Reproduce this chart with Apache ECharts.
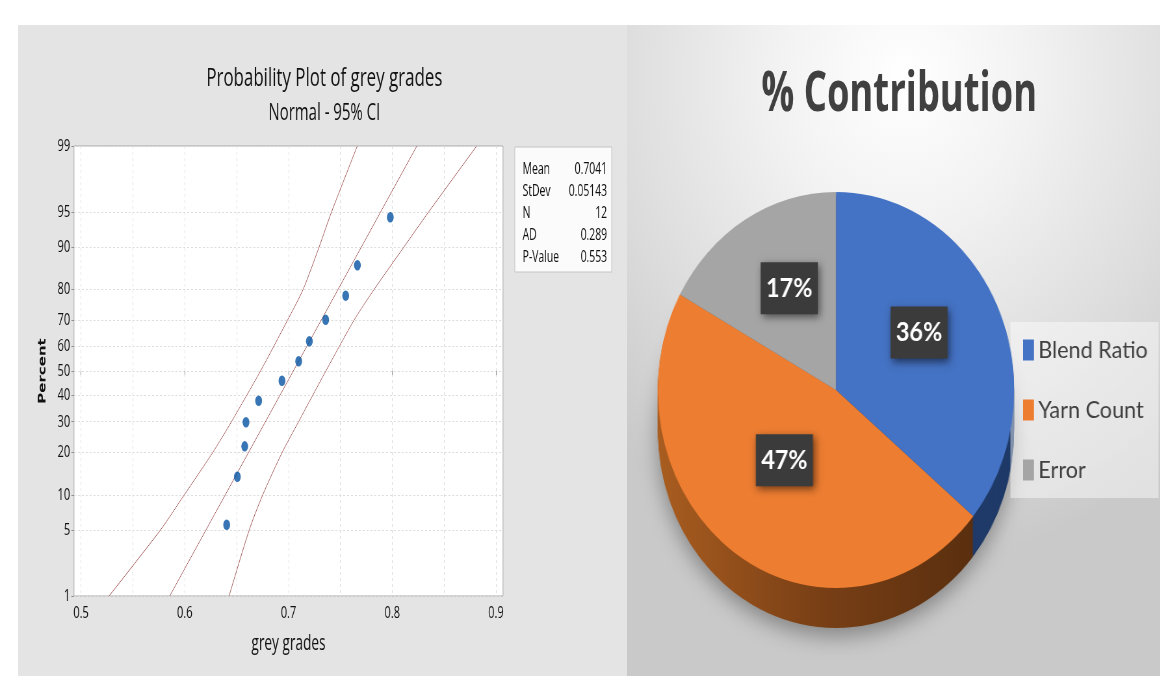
<!DOCTYPE html>
<html><head><meta charset="utf-8">
<script src="https://cdn.jsdelivr.net/npm/echarts@6/dist/echarts.min.js"></script>
<style>
html,body{margin:0;padding:0;width:1160px;height:676px;overflow:hidden;background:#fff;}
#leftBg{position:absolute;left:18px;top:25px;width:609px;height:651px;background:#e4e4e4;}
#rightBg{position:absolute;left:627px;top:25px;width:533px;height:651px;
 background:radial-gradient(ellipse 80% 75% at 52% 8%, #ffffff 0%, #f2f2f2 30%, #dedede 65%, #c9c9c9 100%);}
#left{position:absolute;left:0;top:0;width:1785px;height:676px;transform:scaleX(0.65);transform-origin:0 0;}
#right{position:absolute;left:627px;top:0;width:592px;height:676px;transform:scaleX(0.9);transform-origin:0 0;}
</style></head><body>
<div id="leftBg"></div><div id="rightBg"></div>
<div id="left"></div><div id="right"></div>
<script>
// ---------- data ----------
const percentTicks = [1, 5, 10, 20, 30, 40, 50, 60, 70, 80, 90, 95, 99];
const gradeTicks = [0.5, 0.6, 0.7, 0.8, 0.9];
const gradeGridLines = [0.5, 0.55, 0.6, 0.65, 0.7, 0.75, 0.8, 0.85, 0.9];
const greyGrades = [0.6404, 0.6507, 0.6578, 0.6590, 0.6712, 0.6937, 0.7098, 0.7201, 0.7358, 0.7551, 0.7664, 0.7981];
const plotPercent = [5.6, 13.7, 21.8, 29.8, 37.9, 46.0, 54.0, 62.1, 70.2, 78.2, 86.3, 94.4];
const fitGrades = [0.5855, 0.8237];
const fitPercent = [1, 99];
const ciPercent = [1, 5, 10, 20, 30, 50, 70, 80, 90, 95, 99];
const ciLower = [0.5270, 0.5765, 0.5995, 0.6270, 0.6450, 0.6730, 0.6990, 0.7140, 0.7295, 0.7415, 0.7663];
const ciUpper = [0.6427, 0.6621, 0.6751, 0.6939, 0.7097, 0.7360, 0.7631, 0.7824, 0.8112, 0.8351, 0.8814];
const statNames = ['Mean', 'StDev', 'N', 'AD', 'P-Value'];
const statValues = ['0.7041', '0.05143', '12', '0.289', '0.553'];
const factors = ['Blend Ratio', 'Yarn Count', 'Error'];
const contribution = [36, 47, 17];
const factorColors = ['#4472c4', '#ed7d31', '#a5a5a5'];

// ---------- normal probability scale (inverse normal CDF) ----------
function probit(p) {
  const a=[-3.969683028665376e+01,2.209460984245205e+02,-2.759285104469687e+02,1.383577518672690e+02,-3.066479806614716e+01,2.506628277459239e+00];
  const b=[-5.447609879822406e+01,1.615858368580409e+02,-1.556989798598866e+02,6.680131188771972e+01,-1.328068155022803e+01];
  const c=[-7.784894002430293e-03,-3.223964580411365e-01,-2.400758277161838e+00,-2.549732539343734e+00,4.374664141464968e+00,2.938163982698783e+00];
  const d=[7.784695709041462e-03,3.224671290700398e-01,2.445134137142996e+00,3.754408661907416e+00];
  const pl=0.02425, ph=1-pl; let q, r;
  if (p < pl) { q=Math.sqrt(-2*Math.log(p)); return (((((c[0]*q+c[1])*q+c[2])*q+c[3])*q+c[4])*q+c[5])/((((d[0]*q+d[1])*q+d[2])*q+d[3])*q+1); }
  if (p > ph) { q=Math.sqrt(-2*Math.log(1-p)); return -(((((c[0]*q+c[1])*q+c[2])*q+c[3])*q+c[4])*q+c[5])/((((d[0]*q+d[1])*q+d[2])*q+d[3])*q+1); }
  q=p-0.5; r=q*q;
  return (((((a[0]*r+a[1])*r+a[2])*r+a[3])*r+a[4])*r+a[5])*q/(((((b[0]*r+b[1])*r+b[2])*r+b[3])*r+b[4])*r+1);
}
const pz = pct => probit(pct / 100);
const zTicks = percentTicks.map(pz);
const zMin = zTicks[0], zMax = zTicks[zTicks.length - 1];
function pctLabel(v) {
  let best = 0, bd = Infinity;
  zTicks.forEach((z, i) => { const dd = Math.abs(z - v); if (dd < bd) { bd = dd; best = i; } });
  return String(percentTicks[best]);
}

const SANS = "'Open Sans', 'Noto Sans', sans-serif";
const PIEFONT = "Lato, 'Open Sans', sans-serif";
const RED = '#a45a5a';

// ---------- left: probability plot (+ right panel heading) ----------
const L = echarts.init(document.getElementById('left'), null, {renderer: 'canvas'});
const boxX = 792, boxY = 147, boxW = 149, boxH = 125;
const statGraphics = [{type: 'rect', shape: {x: boxX, y: boxY, width: boxW, height: boxH},
  style: {fill: '#fbfbfb', stroke: '#c4c4c4', lineWidth: 1}}];
statNames.forEach((n, i) => {
  const y = boxY + 22 + i * 22;
  statGraphics.push({type: 'text', x: boxX + 12, y: y, style: {text: n, fill: '#111', font: '16px ' + SANS, textAlign: 'left', textVerticalAlign: 'middle'}});
  statGraphics.push({type: 'text', x: boxX + boxW - 7, y: y, style: {text: statValues[i], fill: '#111', font: '16px ' + SANS, textAlign: 'right', textVerticalAlign: 'middle'}});
});

L.setOption({
  animation: false,
  title: [{
    text: 'Probability Plot of grey grades', subtext: 'Normal - 95% CI',
    left: 494, top: 61, textAlign: 'center', itemGap: 10,
    textStyle: {fontFamily: SANS, fontSize: 26, fontWeight: 'normal', color: '#111'},
    subtextStyle: {fontFamily: SANS, fontSize: 23, color: '#111'}
  }, {
    text: '% Contribution', left: 1378.5, top: 62, textAlign: 'center',
    textStyle: {fontFamily: SANS, fontSize: 56, fontWeight: 'bold', color: '#404040'}
  }],
  grid: {left: 113.85, top: 146, width: 660, height: 450, show: true, backgroundColor: '#ffffff',
    borderColor: '#a9a9a9', borderWidth: 1, containLabel: false, outerBoundsMode: 'none'},
  xAxis: [{
    type: 'value', min: 0.49325, max: 0.90675, position: 'bottom',
    axisLine: {show: false},
    axisTick: {show: true, length: 4, customValues: gradeTicks, lineStyle: {color: '#8c8c8c'}},
    axisLabel: {customValues: gradeTicks, formatter: v => String(+v.toFixed(1)), fontFamily: SANS, fontSize: 17, color: '#111', margin: 9},
    splitLine: {show: false},
    name: 'grey grades', nameLocation: 'middle', nameGap: 38,
    nameTextStyle: {fontFamily: SANS, fontSize: 21, color: '#111'}
  }, {
    type: 'value', min: 0.49325, max: 0.90675, position: 'bottom',
    axisLine: {show: false}, axisLabel: {show: false},
    axisTick: {show: false, customValues: gradeGridLines},
    splitLine: {show: true, lineStyle: {color: '#dcdcdc', type: [3, 3], width: 1}}
  }],
  yAxis: {
    type: 'value', min: zMin, max: zMax,
    axisLine: {show: false},
    axisTick: {show: true, length: 4, customValues: zTicks, lineStyle: {color: '#8c8c8c'}},
    axisLabel: {customValues: zTicks, formatter: pctLabel, fontFamily: SANS, fontSize: 17, color: '#111', margin: 6},
    splitLine: {show: true, lineStyle: {color: '#dcdcdc', type: [3, 3], width: 1}},
    name: 'Percent', nameLocation: 'middle', nameRotate: 90, nameGap: 40,
    nameTextStyle: {fontFamily: "'DejaVu Sans', sans-serif", fontWeight: 'bold', fontSize: 15, color: '#111'}
  },
  graphic: statGraphics,
  series: [
    {type: 'line', name: 'CI lower', xAxisIndex: 0, data: ciPercent.map((p, i) => [ciLower[i], pz(p)]),
     showSymbol: false, smooth: 0.25, lineStyle: {color: RED, width: 1}, silent: true},
    {type: 'line', name: 'CI upper', xAxisIndex: 0, data: ciPercent.map((p, i) => [ciUpper[i], pz(p)]),
     showSymbol: false, smooth: 0.25, lineStyle: {color: RED, width: 1}, silent: true},
    {type: 'line', name: 'Fit', xAxisIndex: 0, data: fitPercent.map((p, i) => [fitGrades[i], pz(p)]),
     showSymbol: false, lineStyle: {color: RED, width: 1}, silent: true},
    {type: 'scatter', name: 'grey grades', xAxisIndex: 0, data: greyGrades.map((g, i) => [g, pz(plotPercent[i])]),
     symbol: 'circle', symbolSize: 10.5, itemStyle: {color: '#0552a3'}, z: 5}
  ]
});

// ---------- right: % contribution pie ----------
const R = echarts.init(document.getElementById('right'), null, {renderer: 'canvas'});
const pieCenter = [232.2, 390], pieR = 198;
const pieData = factors.map((f, i) => ({name: f, value: contribution[i], itemStyle: {color: factorColors[i]}}));
const sideColors = [
  '#1f3a68',
  {type: 'linear', x: 0, y: 0, x2: 1, y2: 0, colorStops: [{offset: 0, color: '#a95d20'}, {offset: 0.5, color: '#7a4016'}, {offset: 1, color: '#5a2f0f'}]},
  '#6a6a6a'
];
const layers = [];
for (let k = 40; k >= 2; k -= 2) {
  layers.push({
    type: 'pie', name: 'side' + k, radius: pieR, center: [pieCenter[0], pieCenter[1] + k],
    startAngle: 90, clockwise: true, z: 2, silent: true, label: {show: false}, labelLine: {show: false},
    emphasis: {disabled: true},
    data: factors.map((f, i) => ({name: f, value: contribution[i], itemStyle: {color: sideColors[i],
      shadowBlur: k === 40 ? 22 : 0, shadowColor: 'rgba(0,0,0,0.35)', shadowOffsetY: k === 40 ? 8 : 0}}))
  });
}
R.setOption({
  animation: false,
  legend: {
    orient: 'vertical', left: 426, top: 322, padding: [13, 12, 13, 14],
    backgroundColor: 'rgba(255,255,255,0.45)', itemWidth: 12, itemHeight: 21, itemGap: 30,
    icon: 'rect', selectedMode: false,
    textStyle: {fontFamily: PIEFONT, fontSize: 24, lineHeight: 30, color: '#404040'},
    data: factors.map((f, i) => ({name: f, itemStyle: {color: factorColors[i]}}))
  },
  series: [{
    type: 'pie', name: '% Contribution', radius: pieR, center: pieCenter,
    startAngle: 90, clockwise: true, z: 5, emphasis: {disabled: true},
    label: {show: true, position: 'inside', formatter: '{c}%', color: '#ffffff',
      fontFamily: PIEFONT, fontWeight: 'bold', fontSize: 26,
      backgroundColor: '#3b3b3b', padding: [14, 6, 12, 6],
      shadowBlur: 8, shadowColor: 'rgba(0,0,0,0.55)', shadowOffsetX: 2, shadowOffsetY: 3},
    labelLayout: {dy: -14},
    labelLine: {show: false},
    data: pieData
  }].concat(layers)
});
</script>
</body></html>
